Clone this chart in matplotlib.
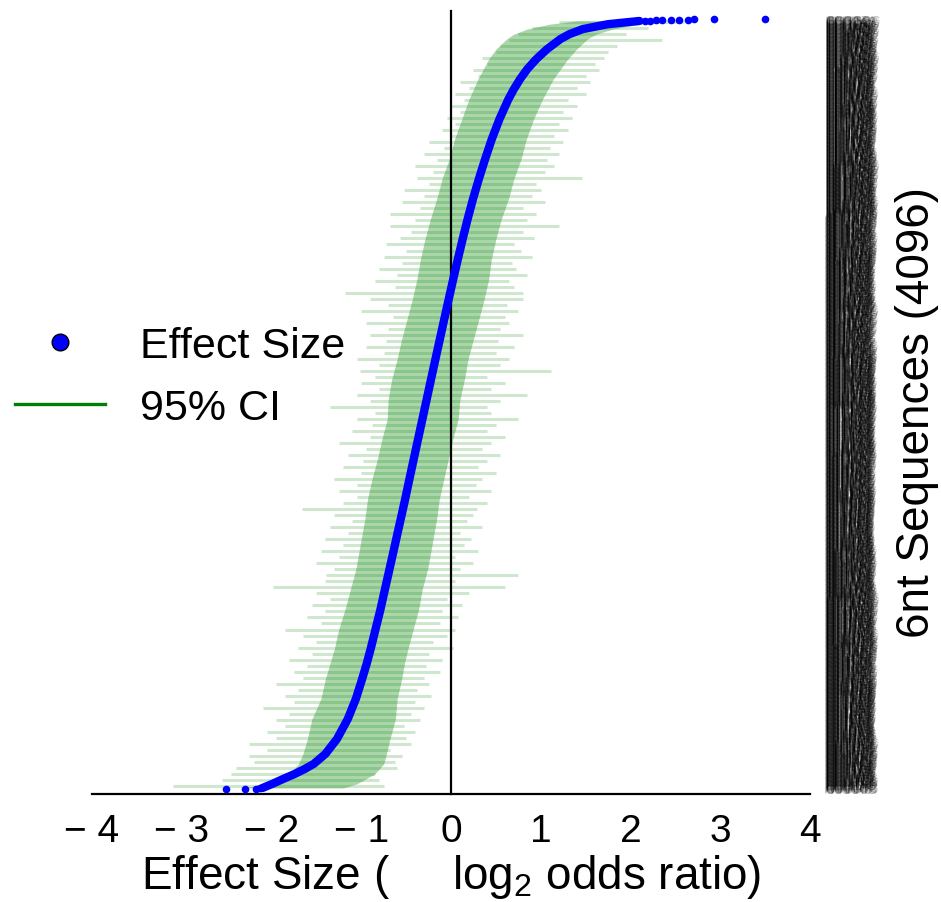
import itertools

import matplotlib

matplotlib.use("Agg")

import matplotlib.pyplot as plt
from matplotlib.lines import Line2D

plt.rcParams["font.family"] = ["Liberation Sans", "DejaVu Sans"]
plt.rcParams["mathtext.fontset"] = "custom"
plt.rcParams["mathtext.rm"] = "Liberation Sans"
plt.rcParams["mathtext.it"] = "Liberation Sans:italic"

# --- data ----------------------------------------------------------------
# rank of the sequence after sorting (0 = lowest effect) and its effect size
effect_rank = [5, 27, 53, 80, 106, 133, 186, 266, 372, 479, 585, 665, 745,
               851, 957, 1064, 1170, 1276, 1383, 1436, 1543, 1649, 1755,
               1861, 1968, 2074, 2180, 2287, 2393, 2499, 2606, 2712, 2819,
               2925, 3031, 3138, 3244, 3350, 3457, 3563, 3669, 3722, 3776,
               3829, 3882, 3935, 3989, 4015, 4042, 4068, 4085]
effect_value = [-2.10, -1.99, -1.87, -1.74, -1.63, -1.53, -1.40, -1.27,
                -1.15, -1.06, -0.99, -0.94, -0.895, -0.84, -0.785, -0.735,
                -0.685, -0.635, -0.585, -0.56, -0.51, -0.463, -0.415,
                -0.367, -0.318, -0.27, -0.222, -0.173, -0.124, -0.075,
                -0.025, 0.025, 0.077, 0.13, 0.185, 0.245, 0.31, 0.38, 0.455,
                0.54, 0.64, 0.70, 0.77, 0.85, 0.95, 1.07, 1.22, 1.32, 1.47,
                1.75, 2.10]

# isolated dots at both ends of the ranking
tail_rank = [0, 1, 2, 3, 4086, 4087, 4088, 4089, 4090, 4091, 4092, 4093,
             4094, 4095]
tail_value = [-2.51, -2.29, -2.17, -2.13, 2.16, 2.22, 2.28, 2.35, 2.45,
              2.54, 2.64, 2.71, 2.93, 3.50]

# dense core of the 95% CI cloud, at the same ranks as effect_rank
band_lo = [-2.30, -2.10, -1.95, -1.85, -1.75, -1.70, -1.65, -1.60, -1.55,
           -1.45, -1.40, -1.35, -1.30, -1.25, -1.18, -1.12, -1.06, -1.02,
           -0.98, -0.96, -0.93, -0.88, -0.82, -0.77, -0.71, -0.70, -0.66,
           -0.60, -0.55, -0.49, -0.43, -0.38, -0.34, -0.29, -0.23, -0.16,
           -0.10, -0.02, 0.04, 0.12, 0.20, 0.25, 0.30, 0.36, 0.42, 0.50,
           0.62, 0.70, 0.85, 1.10, 1.40]
band_hi = [-1.20, -1.05, -0.95, -0.85, -0.80, -0.75, -0.72, -0.68, -0.62,
           -0.60, -0.55, -0.52, -0.48, -0.42, -0.36, -0.32, -0.26, -0.22,
           -0.18, -0.16, -0.13, -0.08, -0.03, 0.02, 0.08, 0.10, 0.15, 0.19,
           0.25, 0.31, 0.37, 0.42, 0.45, 0.50, 0.56, 0.64, 0.70, 0.78,
           0.84, 0.92, 1.02, 1.08, 1.14, 1.22, 1.30, 1.40, 1.52, 1.62,
           1.80, 2.10, 2.40]

# single CI whiskers, one every 32 sequences
ci_rank = list(range(16, 4096, 32))
ci_lo = [-3.10, -2.55, -2.45, -2.40, -2.20, -2.25, -2.05, -2.25, -1.95,
         -2.05, -1.85, -1.95, -1.80, -2.10, -1.75, -1.85, -1.70, -1.95,
         -1.65, -1.75, -1.60, -1.80, -1.55, -1.70, -1.50, -1.65, -1.85,
         -1.45, -1.60, -1.40, -1.55, -1.35, -1.50, -1.98, -1.40, -1.39,
         -1.30, -1.50, -1.25, -1.45, -1.20, -1.40, -1.15, -1.35, -1.10,
         -1.30, -1.66, -1.20, -1.05, -1.25, -1.05, -1.30, -1.00, -1.20,
         -0.98, -1.15, -0.95, -1.25, -0.90, -1.10, -0.88, -1.05, -0.85,
         -1.35, -0.90, -1.05, -0.80, -1.00, -0.85, -1.01, -0.80, -1.05,
         -0.75, -0.95, -0.72, -0.90, -0.70, -0.95, -0.65, -1.00, -0.70,
         -0.90, -1.18, -0.62, -0.85, -0.60, -0.80, -0.55, -0.75, -0.50,
         -0.72, -0.57, -0.45, -0.68, -0.40, -0.68, -0.35, -0.55, -0.30,
         -0.52, -0.25, -0.38, -0.20, -0.40, -0.16, -0.30, -0.08, -0.25,
         0.00, -0.10, 0.05, -0.05, 0.10, 0.00, 0.15, 0.05, 0.20, 0.10,
         0.30, 0.25, 0.40, 0.35, 0.50, 0.55, 0.65, 0.75, 0.90, 1.20]
ci_hi = [-0.75, -0.80, -0.85, -0.60, -0.62, -0.55, -0.68, -0.45, -0.50,
         -0.40, -0.52, -0.35, -0.45, -0.30, -0.40, -0.22, -0.38, -0.25,
         -0.30, -0.12, -0.28, -0.10, -0.25, 0.02, -0.20, -0.05, 0.05,
         -0.12, 0.08, -0.10, 0.12, -0.05, 0.20, 0.60, 0.05, 0.75, 0.10,
         0.25, 0.05, 0.30, 0.15, 0.22, 0.10, 0.35, 0.18, 0.25, 0.29, 0.40,
         0.20, 0.45, 0.28, 0.35, 0.50, 0.30, 0.40, 0.55, 0.35, 0.45, 0.60,
         0.40, 0.50, 0.75, 0.45, 0.40, 0.55, 0.85, 0.45, 0.60, 0.40, 1.11,
         0.55, 0.65, 0.50, 0.70, 0.52, 0.80, 0.55, 0.65, 0.60, 0.75, 0.62,
         0.80, 0.80, 0.70, 0.65, 0.85, 0.72, 0.68, 0.90, 0.78, 0.70, 0.92,
         0.80, 1.20, 0.85, 0.95, 0.80, 1.05, 0.90, 1.00, 0.95, 1.46, 1.05,
         1.15, 1.07, 1.20, 1.10, 1.25, 1.15, 1.30, 1.20, 1.35, 1.25, 1.40,
         1.30, 1.50, 1.40, 1.55, 1.50, 1.65, 1.60, 1.70, 1.75, 1.85, 2.35,
         1.95, 2.20, 2.60]

x_ticks = [-4, -3, -2, -1, 0, 1, 2, 3, 4]
x_tick_labels = ["\u2212 4", "\u2212 3", "\u2212 2", "\u2212 1", "0", "1",
                 "2", "3", "4"]

# all 4096 hexamers; only the two ends of the ranking are legible
kmers = ["".join(p) for p in itertools.product("ACGT", repeat=6)]
seq_labels = [kmers[(i * 2731) % 4096] for i in range(4096)]
for pos, seq in ((0, "CTGGTC"), (4095, "GGGGTA")):
    j = seq_labels.index(seq)
    seq_labels[j], seq_labels[pos] = seq_labels[pos], seq_labels[j]

# --- figure ----------------------------------------------------------------
fig = plt.figure(figsize=(9.41, 9.03), dpi=100)
ax = fig.add_axes([92 / 941, 108 / 903, 718 / 941, 783 / 903])

ax.fill_betweenx(effect_rank, band_lo, band_hi, color="green", alpha=0.33,
                 lw=0, zorder=1)
ax.hlines(ci_rank, ci_lo, ci_hi, color="green", alpha=0.19, lw=2.2,
          zorder=1)
ax.plot(effect_value, effect_rank, color="blue", lw=6,
        solid_capstyle="round", zorder=3)
ax.plot(tail_value, tail_rank, "o", color="blue", ms=5.5, mec="none",
        zorder=3)

ax.set_xlim(-4, 4)
ax.set_ylim(-27, 4138)

ax.spines["left"].set_position(("data", 0))
ax.spines["left"].set_linewidth(1.6)
ax.spines["bottom"].set_linewidth(1.6)
ax.spines["right"].set_visible(False)
ax.spines["top"].set_visible(False)

ax.set_xticks(x_ticks)
ax.set_xticklabels(x_tick_labels, fontsize=28)
ax.tick_params(axis="x", length=0, pad=14)

ax.yaxis.tick_right()
ax.set_yticks(range(len(seq_labels)))
ax.set_yticklabels(seq_labels, fontsize=8.6, alpha=0.13)
ax.tick_params(axis="y", length=0, pad=11)

ax.set_xlabel("Effect Size (     log$_2$ odds ratio)", fontsize=33,
              labelpad=2)
ax.yaxis.set_label_position("right")
ax.set_ylabel("6nt Sequences (4096)", fontsize=33)
ax.yaxis.set_label_coords(1.118, 0.489)

handles = [
    Line2D([], [], ls="none", marker="o", color="blue", mec="black",
           ms=12, label="Effect Size"),
    Line2D([], [], color="green", lw=2.4, label="95% CI"),
]
fig.legend(handles=handles, loc="center left",
           bbox_to_anchor=(15 / 941, 1 - 378 / 903), frameon=False,
           fontsize=31, handlelength=2.1, handletextpad=0.8,
           labelspacing=0.53, borderpad=0, borderaxespad=0)

fig.savefig("out.png", dpi=100)
